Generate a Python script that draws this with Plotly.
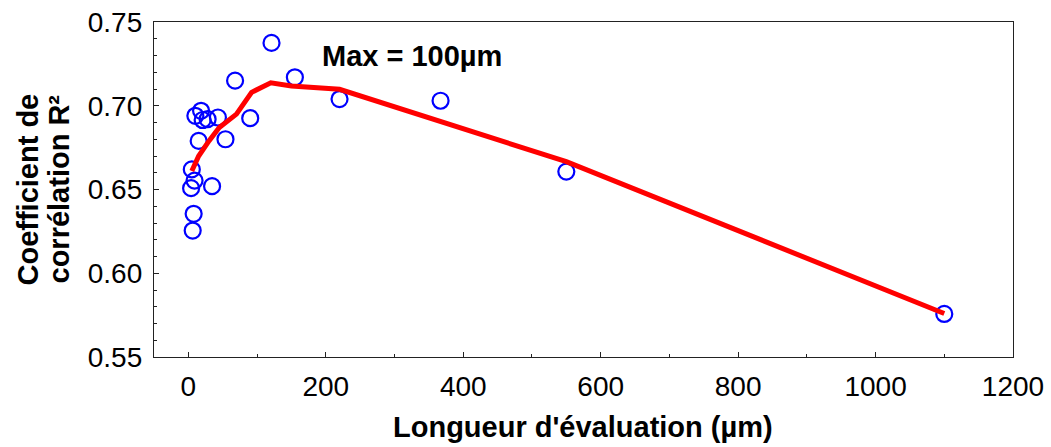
import plotly.graph_objects as go

# Scatter data: evaluation length (µm) vs R²
eval_length = [4, 6.3, 7.7, 9, 5, 34.5, 15, 54, 10.2, 18.5, 20.8, 28, 43, 90, 68,
               121, 155, 220, 367, 550, 1100]
r2_values = [0.6508, 0.6255, 0.6355, 0.6553, 0.662, 0.652, 0.679, 0.680, 0.694,
             0.697, 0.6915, 0.692, 0.693, 0.6926, 0.715, 0.7375, 0.717, 0.704,
             0.703, 0.6607, 0.5757]

# Smoothed trend line
trend_x = [5, 15, 30, 45, 70, 92, 120, 150, 220, 550, 1100]
trend_y = [0.661, 0.670, 0.679, 0.687, 0.695, 0.708, 0.7137, 0.7118, 0.7098, 0.6666, 0.576]

x_ticks = [0, 200, 400, 600, 800, 1000, 1200]
y_ticks = [0.55, 0.60, 0.65, 0.70, 0.75]

FONT = "Arial, Liberation Sans, sans-serif"

fig = go.Figure()
fig.add_trace(go.Scatter(
    x=eval_length, y=r2_values, mode="markers",
    marker=dict(symbol="circle-open", size=16, color="#0000FF",
                line=dict(width=2.2, color="#0000FF")),
    showlegend=False, cliponaxis=False))
fig.add_trace(go.Scatter(
    x=trend_x, y=trend_y, mode="lines",
    line=dict(color="#FF0000", width=5),
    showlegend=False))

axis_common = dict(
    showgrid=False, zeroline=False, showline=True, linecolor="#222222",
    linewidth=1.3, mirror=True, ticks="inside", ticklen=5, tickcolor="#222222",
    tickwidth=1, tickfont=dict(family=FONT, size=28, color="black"))

fig.update_xaxes(range=[-50, 1200], tickvals=x_ticks, ticklabelstandoff=4,
                 minor=dict(dtick=100, tick0=0, ticks="inside", ticklen=3,
                            tickcolor="#222222"),
                 **axis_common)
fig.update_yaxes(range=[0.55, 0.75], tickvals=y_ticks, tickformat=".2f",
                 ticklabelstandoff=5,
                 minor=dict(dtick=0.01, tick0=0.55, ticks="inside", ticklen=3,
                            tickcolor="#222222"),
                 **axis_common)

PLOT_L, PLOT_R, PLOT_T, PLOT_B = 154, 1013, 22, 357.5
W, H = 1051, 447
pw = PLOT_R - PLOT_L
ph = PLOT_B - PLOT_T

def px_x(px):
    return (px - PLOT_L) / pw

def px_y(py):
    return (PLOT_B - py) / ph

annotations = [
    dict(text="<b>Max = 100µm</b>", x=326, y=0.7296, xref="x", yref="y",
         showarrow=False, font=dict(family=FONT, size=29, color="black"),
         xanchor="center", yanchor="middle"),
    dict(text="<b>Longueur d'évaluation (µm)</b>", x=px_x(583), y=px_y(428),
         xref="paper", yref="paper", showarrow=False,
         font=dict(family=FONT, size=29, color="black"),
         xanchor="center", yanchor="middle"),
    dict(text="<b>Coefficient de</b>", x=px_x(27), y=0.5,
         xref="paper", yref="paper", showarrow=False, textangle=-90,
         font=dict(family=FONT, size=29, color="black"),
         xanchor="center", yanchor="middle"),
    dict(text="<b>corrélation R²</b>", x=px_x(58), y=0.5,
         xref="paper", yref="paper", showarrow=False, textangle=-90,
         font=dict(family=FONT, size=29, color="black"),
         xanchor="center", yanchor="middle"),
]

fig.update_layout(
    width=W, height=H,
    margin=dict(l=PLOT_L, r=W - PLOT_R, t=PLOT_T, b=H - PLOT_B, autoexpand=False),
    paper_bgcolor="white", plot_bgcolor="white",
    font=dict(family=FONT, color="black"),
    annotations=annotations,
)

fig.write_html("out.html",
               config={"displayModeBar": False},
               post_script="document.body.style.margin='0';document.body.style.padding='0';")
